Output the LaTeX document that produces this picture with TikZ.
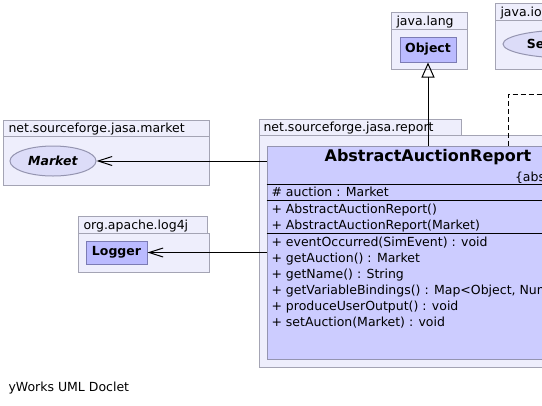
\documentclass[tikz,border=0pt]{standalone}
\usepackage{fontspec}
\setmainfont{DejaVu Sans}
\usepackage{tikz}
\usetikzlibrary{arrows.meta,shapes.geometric}
\definecolor{pkgfill}{HTML}{EEEEFC}
\definecolor{pkgline}{HTML}{A4A4B4}
\definecolor{clsfill}{HTML}{CCCCFF}
\definecolor{clsline}{HTML}{9494B0}
\definecolor{extfill}{HTML}{BBBBFF}
\definecolor{extline}{HTML}{7C7CB4}
\definecolor{ifcfill}{HTML}{DCDCF8}

\begin{document}
\begin{tikzpicture}[x=1bp,y=-1bp,line width=1bp,
    every node/.style={font=\fontsize{12.5bp}{15bp}\selectfont,inner sep=0pt},
    pkg/.style={draw=pkgline,fill=pkgfill},
    pkglabel/.style={anchor=base west},
    member/.style={anchor=base west},
    extcls/.style={draw=extline,fill=extfill,rectangle},
    ifc/.style={draw=clsline,fill=ifcfill,ellipse},
    assoc/.style={-{Straight Barb[length=14bp,width=9bp]}},
    gen/.style={-{Triangle[open,length=15bp,width=13bp]}}]
    \useasboundingbox (0,0) rectangle (542,405);
    \clip (0,0) rectangle (542,405);
    % packages
    \filldraw [pkg] (391,12) rectangle (467,29);
    \filldraw [pkg] (391,29) rectangle (467,69);
    \node [pkglabel] (langlbl) at (396,25) {java.lang};
    \filldraw [pkg] (495,3) rectangle (580,20);
    \filldraw [pkg] (495,20) rectangle (640,69);
    \node [pkglabel] (iolbl) at (500,16) {java.io};
    \filldraw [pkg] (3,120) rectangle (209,136);
    \filldraw [pkg] (3,136) rectangle (209,185);
    \node [pkglabel] (marketlbl) at (8,132) {net.sourceforge.jasa.market};
    \filldraw [pkg] (78,216) rectangle (207,233);
    \filldraw [pkg] (78,233) rectangle (209,272);
    \node [pkglabel] (loglbl) at (83,229) {org.apache.log4j};
    \filldraw [pkg] (259,119) rectangle (461,135);
    \filldraw [pkg] (259,135) rectangle (640,367);
    \node [pkglabel] (reportlbl) at (263,131) {net.sourceforge.jasa.report};
    % classes
    \node [extcls, minimum width=56bp, minimum height=25bp] (object) at (428,49.5) {\textbf{Object}};
    \node [ifc, minimum width=130bp, minimum height=28bp] (serial) at (568,44) {\textbf{Serializable}};
    \node [ifc, minimum width=86bp, minimum height=30bp] (market) at (53,161) {\textbf{\textit{Market}}};
    \node [extcls, minimum width=61bp, minimum height=23bp] (logger) at (116.5,252.5) {\textbf{Logger}};
    \node [draw=clsline, fill=clsfill, minimum width=322bp, minimum height=213bp] (report) at (428,252.5) {};
    \node [font=\fontsize{16bp}{19bp}\selectfont\bfseries] (title) at (428,157.5) {AbstractAuctionReport};
    \node [anchor=base east] (abstr) at (583,181) {\{abstract\}};
    \draw (report.west |- 0,184) -- (report.east |- 0,184);
    \draw (report.west |- 0,200.5) -- (report.east |- 0,200.5);
    \draw (report.west |- 0,233) -- (report.east |- 0,233);
    \node [member] (attr) at (271,196.5) {\# auction : Market};
    \node [member] (ctor1) at (271,213) {+ AbstractAuctionReport()};
    \node [member] (ctor2) at (271,229) {+ AbstractAuctionReport(Market)};
    \node [member] (m1) at (271,246) {+ eventOccurred(SimEvent) : void};
    \node [member] (m2) at (271,262) {+ getAuction() : Market};
    \node [member] (m3) at (271,278) {+ getName() : String};
    \node [member] (m4) at (271,294) {+ getVariableBindings() : Map<Object, Number>};
    \node [member] (m5) at (271,310) {+ produceUserOutput() : void};
    \node [member] (m6) at (271,326) {+ setAuction(Market) : void};
    % connectors
    \draw [assoc] (report.west |- market) -- (market.east);
    \draw [assoc] (report.west |- logger) -- (logger.east);
    \draw [gen] (report.north -| object) -- (object.south);
    \coordinate (dashbend) at (508,94);
    \coordinate (ioexit) at (640,94);
    \draw [dash pattern=on 5bp off 3bp] (dashbend |- report.north) -- (dashbend) -- (ioexit);
    \node [anchor=base west] (footer) at (8,391) {yWorks UML Doclet};
\end{tikzpicture}
\end{document}
